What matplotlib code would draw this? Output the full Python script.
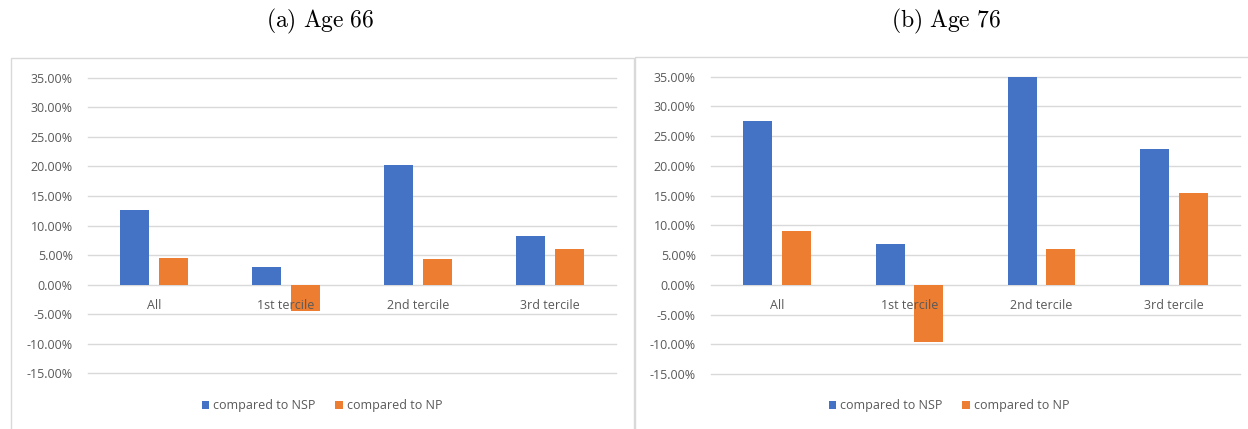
import numpy as np
import matplotlib
matplotlib.use('Agg')
import matplotlib.pyplot as plt
from matplotlib.patches import Rectangle

plt.rcParams['font.family'] = ['Open Sans', 'DejaVu Sans']
plt.rcParams['mathtext.fontset'] = 'cm'

# ------------------------------------------------------------------------- #
categories = ['All', '1st tercile', '2nd tercile', '3rd tercile']
series_names = ['compared to NSP', 'compared to NP']

# values in percent
age66_nsp = [12.6, 3.0, 20.3, 8.2]
age66_np = [4.5, -4.5, 4.3, 6.0]
age76_nsp = [27.6, 6.9, 35.0, 22.8]
age76_np = [9.0, -9.6, 6.1, 15.5]

yticks = [-15, -10, -5, 0, 5, 10, 15, 20, 25, 30, 35]
titles = [r'$\mathrm{(a)\ Age\ 66}$', r'$\mathrm{(b)\ Age\ 76}$']

blue = '#4472C4'
orange = '#ED7D31'
grid_col = '#D9D9D9'
text_col = '#595959'

W, H = 1248., 429.
fig = plt.figure(figsize=(W/100, H/100), dpi=100)

def px(x0, y0, x1, y1):
    # pixel box (top-left origin) -> figure fraction rect
    return [x0/W, 1 - y1/H, (x1 - x0)/W, (y1 - y0)/H]

# chart area borders (Excel style)
for (bx0, by0, bx1) in [(11, 58, 634), (635, 57, 1262)]:
    fig.patches.append(Rectangle((bx0/W, -0.05), (bx1 - bx0)/W, 1 - by0/H + 0.05,
                                 transform=fig.transFigure, fill=False,
                                 edgecolor=grid_col, lw=1.0))

panels = [
    (px(88, 77.7, 616, 373.3), age66_nsp, age66_np, 322, 320),
    (px(711, 76.7, 1240, 374), age76_nsp, age76_np, 949, 946),
]

x = np.arange(len(categories))
bw = 0.22
off = 0.145

for k, (rect, nsp, npv, leg_cx, title_cx) in enumerate(panels):
    ax = fig.add_axes(rect)
    b1 = ax.bar(x - off, nsp, width=bw, color=blue, zorder=2, label=series_names[0])
    b2 = ax.bar(x + off, npv, width=bw, color=orange, zorder=2, label=series_names[1])
    ax.set_xlim(-0.5, len(categories) - 0.5)
    ax.set_ylim(-15, 35)
    ax.set_yticks(yticks)
    ax.set_yticklabels(['%0.2f%%' % v for v in yticks], color=text_col, fontsize=9)
    ax.set_xticks([])
    ax.tick_params(axis='y', length=0, pad=11)
    for s in ax.spines.values():
        s.set_visible(False)
    for v in yticks:
        ax.axhline(v, color=grid_col, lw=1.0, zorder=1, clip_on=False)
    for i, c in enumerate(categories):
        ax.annotate(c, xy=(i, 0), xytext=(0, -15), textcoords='offset points',
                    ha='center', va='center', color=text_col, fontsize=9, zorder=3)
    fig.legend(handles=[b1, b2], loc='center', ncol=2, frameon=False,
               bbox_to_anchor=(leg_cx/W, 1 - 406/H), fontsize=9,
               handlelength=0.6, handleheight=0.6, handletextpad=0.3,
               columnspacing=1.6, labelcolor=text_col)
    fig.text(title_cx/W, 1 - 21/H, titles[k], ha='center', va='center', fontsize=17)

fig.savefig('out.png', dpi=100)
